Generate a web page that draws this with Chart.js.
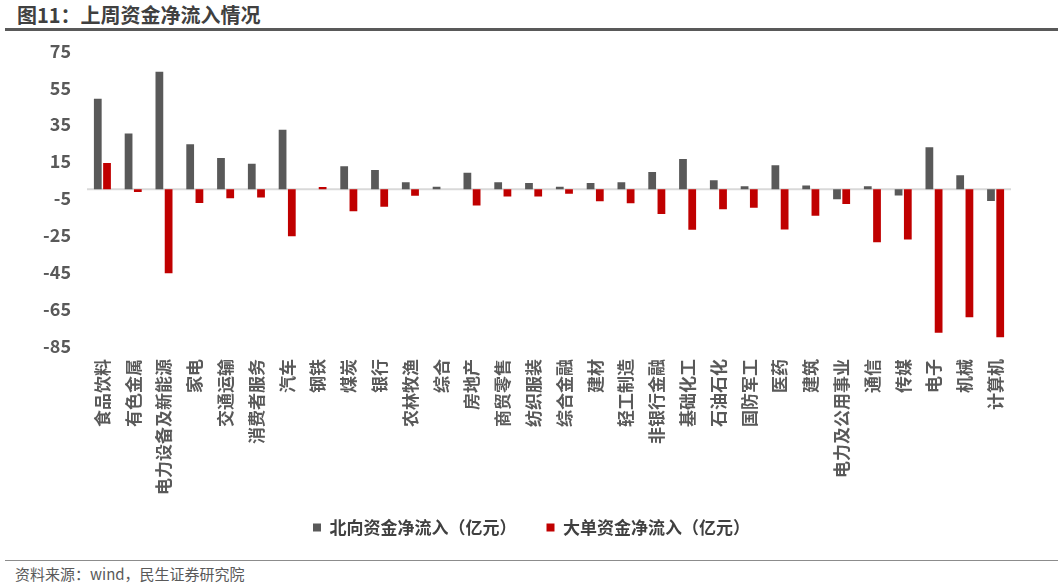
<!DOCTYPE html>
<html>
<head>
<meta charset="utf-8">
<script src="https://cdn.jsdelivr.net/npm/chart.js@4.4.1/dist/chart.umd.min.js"></script>
<style>
  body { margin: 0; background: #fff; font-family: "Noto Sans CJK SC", sans-serif; }
  #page { position: relative; width: 1058px; height: 588px; overflow: hidden; }
  #title { position: absolute; left: 17px; top: 1px; font-size: 20px; line-height: 28px; font-weight: bold; color: #404040; }
  #titleLine { position: absolute; left: 5px; right: 0; top: 28px; height: 3px; background: #595959; }
  #chartBox { position: absolute; left: 0; top: 24px; width: 1058px; height: 535px; }
  #footLine { position: absolute; left: 5px; right: 0; top: 560px; height: 1px; background: #8c8c8c; }
  #source { position: absolute; left: 15px; top: 564px; font-size: 15px; line-height: 20px; color: #595959; }
</style>
</head>
<body>
<div id="page">
  <div id="title">图11：上周资金净流入情况</div>
  <div id="titleLine"></div>
  <div id="chartBox"><canvas id="flowChart"></canvas></div>
  <div id="footLine"></div>
  <div id="source">资料来源：wind，民生证券研究院</div>
</div>
<script>
// ------------------ Data ------------------
const industries = ['食品饮料', '有色金属', '电力设备及新能源', '家电', '交通运输', '消费者服务', '汽车', '钢铁',
    '煤炭', '银行', '农林牧渔', '综合', '房地产', '商贸零售', '纺织服装', '综合金融', '建材', '轻工制造',
    '非银行金融', '基础化工', '石油石化', '国防军工', '医药', '建筑', '电力及公用事业', '通信', '传媒',
    '电子', '机械', '计算机'];
const northbound = [49, 30.2, 63.6, 24.4, 16.9, 13.8, 32.2, 0, 12.4, 10.4, 3.8, 1.3, 8.9, 3.8, 3.4, 1.3, 3.4, 3.8,
    9.3, 16.4, 4.9, 1.6, 12.9, 2, -5.5, 1.6, -3.4, 22.7, 7.5, -6.4];
const bigOrder = [14.2, -1.5, -45.6, -7.5, -4.9, -4.5, -25.5, 1.2, -12, -9.5, -3.6, 0, -8.9, -4, -4, -2.5, -6.5, -7.6,
    -13.4, -22, -10.9, -10, -21.8, -14.4, -8, -28.7, -27.3, -77.8, -69.4, -80.3];
const yTicks = [-85, -65, -45, -25, -5, 15, 35, 55, 75];

// ------------------ Plugins ------------------
const zeroLine = {
    id: 'zeroLine',
    beforeDatasetsDraw(chart) {
        const ctx = chart.ctx;
        const area = chart.chartArea;
        const y = chart.scales.y.getPixelForValue(0);
        ctx.save();
        ctx.strokeStyle = '#d9d9d9';
        ctx.lineWidth = 2;
        ctx.beginPath();
        ctx.moveTo(area.left, y);
        ctx.lineTo(area.right, y);
        ctx.stroke();
        ctx.restore();
    }
};

// legend sits centred on the whole page, a bit closer to the labels
const legendShift = {
    id: 'legendShift',
    afterLayout(chart) {
        const lg = chart.legend;
        lg.left += 26;
        lg.right += 26;
        lg.top -= 13;
        lg.bottom -= 13;
    }
};

const fontFamily = '"Noto Sans CJK SC", sans-serif';

new Chart(document.getElementById('flowChart'), {
    type: 'bar',
    data: {
        labels: industries,
        datasets: [{
            label: '北向资金净流入（亿元）',
            data: northbound,
            backgroundColor: '#595959'
        }, {
            label: '大单资金净流入（亿元）',
            data: bigOrder,
            backgroundColor: '#c00000'
        }]
    },
    options: {
        responsive: true,
        maintainAspectRatio: false,
        animation: false,
        layout: { padding: { left: 0, right: 47, top: 0, bottom: 0 } },
        datasets: {
            bar: { categoryPercentage: 0.6, barPercentage: 0.84 }
        },
        scales: {
            x: {
                grid: { display: false, drawTicks: false },
                border: { display: false },
                afterFit(scale) { scale.height = 156; },
                ticks: {
                    autoSkip: false,
                    minRotation: 90,
                    maxRotation: 90,
                    padding: 13,
                    color: '#595959',
                    font: { family: fontFamily, size: 17, weight: 'bold' }
                }
            },
            y: {
                min: -85,
                max: 75,
                grid: { display: false, drawTicks: false },
                border: { display: false },
                afterFit(scale) { scale.width = 87; },
                afterBuildTicks(scale) {
                    scale.ticks = yTicks.map(v => ({ value: v }));
                },
                ticks: {
                    padding: 16,
                    color: '#595959',
                    font: { family: fontFamily, size: 18, weight: 'bold' }
                }
            }
        },
        plugins: {
            legend: {
                position: 'bottom',
                labels: {
                    boxWidth: 8,
                    boxHeight: 8,
                    padding: 30,
                    color: '#404040',
                    font: { family: fontFamily, size: 17, weight: 'bold' }
                }
            },
            tooltip: { enabled: false }
        }
    },
    plugins: [zeroLine, legendShift]
});
</script>
</body>
</html>
